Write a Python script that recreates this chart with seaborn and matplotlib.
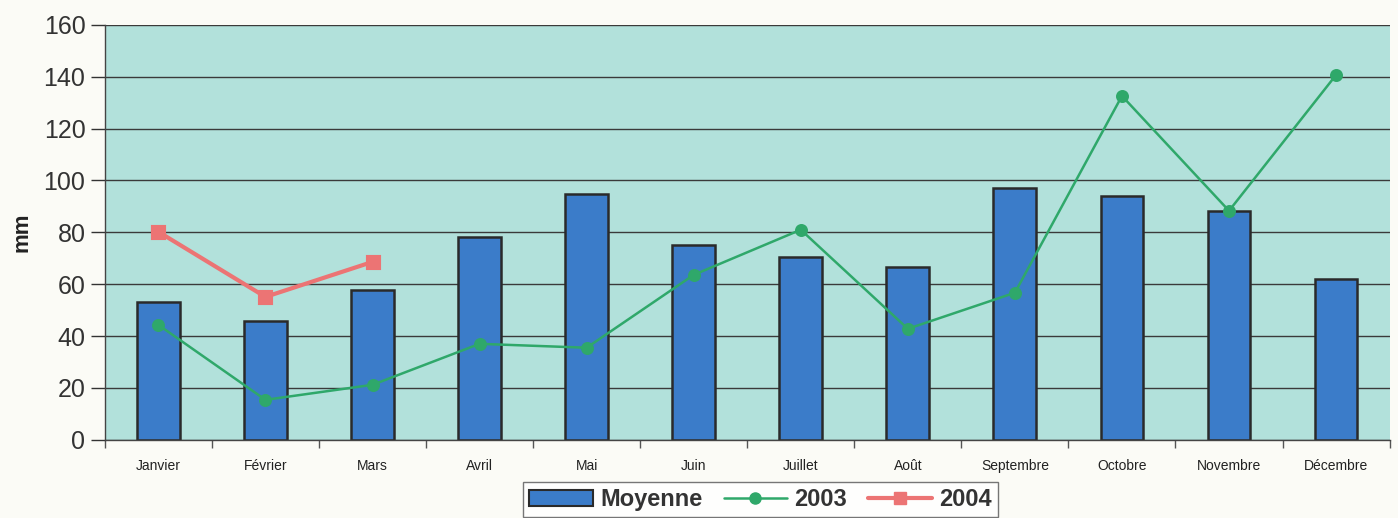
import numpy as np
import pandas as pd
import matplotlib
matplotlib.use("Agg")
import matplotlib.pyplot as plt
import seaborn as sns

mois = ["Janvier", "Février", "Mars", "Avril", "Mai", "Juin", "Juillet",
        "Août", "Septembre", "Octobre", "Novembre", "Décembre"]
moyenne = [53.2, 45.9, 57.8, 78.3, 94.8, 75.2, 70.5, 66.7, 97.1, 94.1, 88.3, 62.1]
pluie_2003 = [44.3, 15.4, 21.2, 37.0, 35.5, 63.6, 81.0, 42.8, 56.7, 132.6, 88.3, 140.7]
mois_2004 = ["Janvier", "Février", "Mars"]
pluie_2004 = [80.2, 55.1, 68.6]

sns.set_theme(style="white")
plt.rcParams["font.family"] = ["Liberation Sans", "DejaVu Sans"]

fig = plt.figure(figsize=(13.98, 5.18), dpi=100, facecolor="#fbfbf6")
ax = fig.add_axes([0.075, 0.151, 0.919, 0.801])
ax.set_facecolor("#b2e1db")

df_bar = pd.DataFrame({"mois": mois, "mm": moyenne})
sns.barplot(data=df_bar, x="mois", y="mm", order=mois, color="#3b7cc9",
            saturation=1, width=0.4, edgecolor="#2a2a2a", linewidth=1.8,
            ax=ax, zorder=2)

df_2003 = pd.DataFrame({"mois": mois, "mm": pluie_2003})
sns.pointplot(data=df_2003, x="mois", y="mm", order=mois, color="#2fa86a",
              markers="o", markersize=8, linewidth=1.8, ax=ax, zorder=4)

df_2004 = pd.DataFrame({"mois": mois_2004, "mm": pluie_2004})
sns.pointplot(data=df_2004, x="mois", y="mm", order=mois, color="#ec7474",
              markers="s", markersize=8, linewidth=3, ax=ax, zorder=4)

ax.set_xlim(-0.5, 11.5)
ax.set_ylim(0, 160)
ax.set_yticks(np.arange(0, 161, 20))
ax.yaxis.grid(True, color="#3a3a3a", linewidth=1.0)
ax.set_axisbelow(True)
for gl in ax.get_ygridlines():
    gl.set_zorder(1)

ax.tick_params(axis="y", labelsize=18, colors="#333333", length=10,
               width=1, direction="out", left=True, pad=4)
ax.tick_params(axis="x", labelsize=10, colors="#222222", length=0, pad=14)
ax.set_xticks(np.arange(-0.5, 12, 1), minor=True)
ax.tick_params(axis="x", which="minor", bottom=True, length=6,
               width=1, color="#555555", direction="out")
ax.set_xlabel("")
ax.set_ylabel("mm", fontsize=16, fontweight="bold", color="#222222", labelpad=8)

for side in ["top", "right"]:
    ax.spines[side].set_visible(False)
for side in ["left", "bottom"]:
    ax.spines[side].set_color("#444444")
    ax.spines[side].set_linewidth(1.0)

handles = [
    matplotlib.patches.Patch(facecolor="#3b7cc9", edgecolor="#2a2a2a", linewidth=1.5),
    matplotlib.lines.Line2D([], [], color="#2fa86a", marker="o", markersize=8, linewidth=1.8),
    matplotlib.lines.Line2D([], [], color="#ec7474", marker="s", markersize=9, linewidth=3),
]
leg = fig.legend(handles, ["Moyenne", "2003", "2004"], loc="center",
                 bbox_to_anchor=(0.544, 0.035), ncol=3, frameon=True,
                 fancybox=False, edgecolor="#555555", facecolor="white",
                 prop={"size": 17, "weight": "bold"}, handlelength=2.7,
                 handletextpad=0.3, columnspacing=0.9, borderpad=0.25,
                 labelcolor="#333333")
leg.get_frame().set_linewidth(1.0)

fig.savefig("out.png", dpi=100, facecolor=fig.get_facecolor())
